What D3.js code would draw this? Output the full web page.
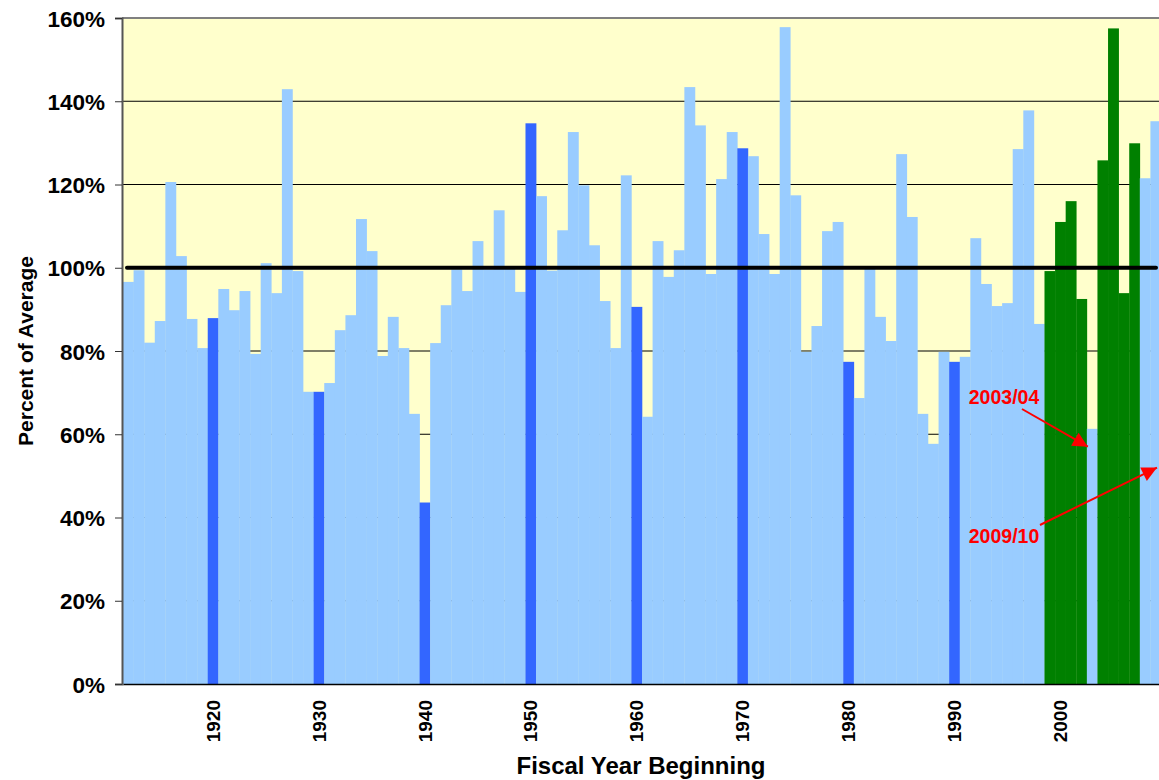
<!DOCTYPE html>
<html>
<head>
<meta charset="utf-8">
<script src="https://cdn.jsdelivr.net/npm/d3@7"></script>
<style>
  body { margin: 0; background: #fff; }
  text { font-family: Arial, "Liberation Sans", sans-serif; font-weight: bold; }
</style>
</head>
<body>
<svg id="chart" width="1159" height="780"></svg>
<script>
// Fiscal years shown, one bar each
const firstYear = 1912;
const lastYear = 2009;
const years = d3.range(firstYear, lastYear + 1);

// Percent of average, 1912 .. 2009
const pctValues = [
  96.6, 99.4, 82.0, 87.2, 120.6, 102.8, 87.7, 80.7,      // 1912-1919
  87.9, 94.9, 89.8, 94.4, 79.3, 101.1, 93.9, 142.9, 99.2, 70.2, // 1920-1929
  70.2, 72.3, 85.0, 88.6, 111.7, 104.0, 78.8, 88.2, 80.7, 64.9, // 1930-1939
  43.6, 81.9, 91.0, 99.6, 94.4, 106.4, 99.6, 113.8, 99.8, 94.2, // 1940-1949
  134.7, 117.2, 99.3, 109.0, 132.6, 119.8, 105.4, 92.0, 80.7, 122.2, // 1950-1959
  90.6, 64.2, 106.4, 97.8, 104.2, 143.4, 134.2, 98.5, 121.3, 132.6, // 1960-1969
  128.7, 126.8, 108.1, 98.5, 157.8, 117.4, 79.8, 86.0, 108.8, 111.0, // 1970-1979
  77.4, 68.7, 99.8, 88.2, 82.4, 127.3, 112.2, 64.9, 57.7, 79.8, // 1980-1989
  77.4, 78.6, 107.1, 96.1, 90.8, 91.5, 128.5, 137.8, 86.5, 99.2, // 1990-1999
  111.0, 116.0, 92.5, 61.3, 125.8, 157.5, 93.9, 129.9, 121.5, 135.2 // 2000-2009
];

// Highlighted years
const decadeYears = [1920, 1930, 1940, 1950, 1960, 1970, 1980, 1990];
const greenYears = [1999, 2000, 2001, 2002, 2004, 2005, 2006, 2007];

// Axis ticks
const yTicks = [0, 20, 40, 60, 80, 100, 120, 140, 160];
const xTickYears = [1920, 1930, 1940, 1950, 1960, 1970, 1980, 1990, 2000];

// Annotations: label, year pointed at, value pointed at
const notes = [
  { label: "2003/04", year: 2003, value: 57 },
  { label: "2009/10", year: 2009, value: 52 }
];

const data = years.map((y, i) => ({ year: y, value: pctValues[i] }));

const svg = d3.select("#chart");

const x = d3.scaleBand()
  .domain(years)
  .range([123, 1161])
  .padding(0);

const y = d3.scaleLinear()
  .domain([0, 160])
  .range([684, 18]);

// plot background
svg.append("rect")
  .attr("x", 122).attr("y", y(160))
  .attr("width", 1159 - 122).attr("height", y(0) - y(160))
  .attr("fill", "#FFFFCC");

// gridlines (behind bars)
svg.append("g")
  .selectAll("line")
  .data(yTicks.filter(d => d > 0 && d < 160 && d !== 100))
  .join("line")
  .attr("x1", 122).attr("x2", 1159)
  .attr("y1", d => y(d)).attr("y2", d => y(d))
  .attr("stroke", "#000")
  .attr("stroke-width", 1.2);

// bars
const barColor = d => greenYears.includes(d.year) ? "#008000"
  : decadeYears.includes(d.year) ? "#3366FF" : "#99CCFF";

svg.append("g")
  .selectAll("rect")
  .data(data)
  .join("rect")
  .attr("x", d => x(d.year))
  .attr("width", x.bandwidth() + 0.3)
  .attr("y", d => y(d.value))
  .attr("height", d => y(0) - y(d.value))
  .attr("fill", barColor);

// top border
svg.append("line")
  .attr("x1", 122).attr("x2", 1159)
  .attr("y1", y(160)).attr("y2", y(160))
  .attr("stroke", "#808080").attr("stroke-width", 2);

// 100% reference line
svg.append("line")
  .attr("x1", 127).attr("x2", 1156)
  .attr("y1", y(100)).attr("y2", y(100))
  .attr("stroke", "#000").attr("stroke-width", 4)
  .attr("stroke-linecap", "round");

// y axis
const yAxis = svg.append("g")
  .attr("transform", "translate(122,0)")
  .call(d3.axisLeft(y).tickValues(yTicks).tickFormat(d => d + "%").tickSize(7).tickPadding(10));
yAxis.select(".domain").attr("stroke", "#555").attr("stroke-width", 2);
yAxis.selectAll(".tick line").attr("stroke", "#333");
yAxis.selectAll(".tick text")
  .attr("font-size", 22.5)
  .attr("fill", "#000")
  .attr("dy", "0.36em");

// x axis
const xAxis = svg.append("g")
  .attr("transform", `translate(0,${y(0)})`)
  .call(d3.axisBottom(x).tickValues(xTickYears).tickSize(0).tickPadding(0));
xAxis.select(".domain").attr("stroke", "#000").attr("stroke-width", 1.5);
xAxis.selectAll(".tick text")
  .attr("font-size", 19)
  .attr("fill", "#000")
  .attr("text-anchor", "end")
  .attr("transform", "rotate(-90)")
  .attr("x", -16)
  .attr("y", 0)
  .attr("dy", "0.35em");

// axis titles
svg.append("text")
  .attr("x", 641).attr("y", 774)
  .attr("text-anchor", "middle")
  .attr("font-size", 24)
  .text("Fiscal Year Beginning");

svg.append("text")
  .attr("transform", "translate(33,351) rotate(-90)")
  .attr("text-anchor", "middle")
  .attr("font-size", 21)
  .text("Percent of Average");

// annotation arrows
svg.append("defs").append("marker")
  .attr("id", "arrow")
  .attr("viewBox", "0 0 10 10")
  .attr("refX", 10).attr("refY", 5)
  .attr("markerWidth", 18).attr("markerHeight", 15)
  .attr("markerUnits", "userSpaceOnUse")
  .attr("orient", "auto")
  .append("path")
  .attr("d", "M0,0 L10,5 L0,10 Z")
  .attr("fill", "#FF0000");

const noteLayout = [
  { tx: 1004, ty: 404, sx: 1022, sy: 409 },
  { tx: 1004, ty: 543, sx: 1040, sy: 525 }
];

notes.forEach((n, i) => {
  const p = noteLayout[i];
  const tipX = i === 0 ? x(n.year) + 1 : x(n.year) + x.bandwidth() - 4;
  svg.append("line")
    .attr("x1", p.sx).attr("y1", p.sy)
    .attr("x2", tipX).attr("y2", y(n.value))
    .attr("stroke", "#FF0000").attr("stroke-width", 2)
    .attr("marker-end", "url(#arrow)");
  svg.append("text")
    .attr("x", p.tx).attr("y", p.ty)
    .attr("text-anchor", "middle")
    .attr("font-size", 19.5)
    .attr("fill", "#FF0000")
    .text(n.label);
});
</script>
</body>
</html>
